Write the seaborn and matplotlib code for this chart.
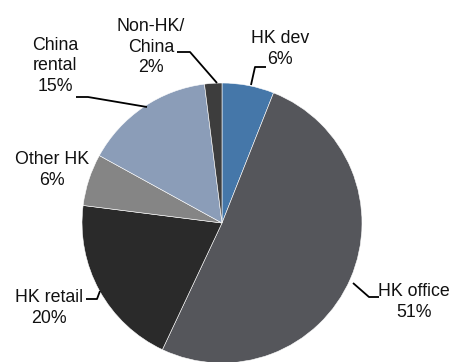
import matplotlib
matplotlib.use("Agg")
import matplotlib.pyplot as plt
from matplotlib import font_manager
import seaborn as sns

# ---- data ----
categories = ["HK dev", "HK office", "HK retail", "Other HK", "China rental", "Non-HK/\nChina"]
shares = [6, 51, 20, 6, 15, 2]
label_texts = ["HK dev\n6%", "HK office\n51%", "HK retail\n20%", "Other HK\n6%",
               "China\nrental\n15%", "Non-HK/\nChina\n2%"]
colors = ["#4577a9", "#55565b", "#2a2a2a", "#858585", "#8b9db8", "#3d3d3d"]

sns.set_theme(style="white")
names = {f.name for f in font_manager.fontManager.ttflist}
if "Liberation Sans Narrow" in names:
    fam, fsize = ["Liberation Sans Narrow", "DejaVu Sans"], 14.2
else:
    fam, fsize = ["Liberation Sans", "DejaVu Sans"], 12.8
plt.rcParams["font.family"] = fam

W, H = 452, 362
fig = plt.figure(figsize=(W / 100, H / 100), dpi=100)
ax = fig.add_axes([0, 0, 1, 1])

def P(x, y):
    return (x, H - y)

ax.pie(shares, colors=colors, startangle=90, counterclock=False,
       center=P(222, 223), radius=140, frame=True,
       wedgeprops=dict(edgecolor="white", linewidth=0.4))
ax.set_xlim(0, W)
ax.set_ylim(0, H)
ax.set_aspect("equal")
ax.axis("off")

# label layout (pixel positions)
text_pos = [(280, 49), (414, 302), (49, 308), (52, 170), (55, 66), (151, 47)]
leaders = [
    [(251, 85), (255, 67), (266, 67)],
    [(353, 283), (369, 297), (379, 297)],
    [(86, 299), (97, 299), (100, 291)],
    None,
    [(76, 97), (88, 97), (147, 107)],
    [(177, 52), (190, 52), (217, 83)],
]
for txt, (tx, ty), ld in zip(label_texts, text_pos, leaders):
    ax.text(*P(tx, ty), txt, ha="center", va="center", fontsize=fsize,
            color="#111111", linespacing=1.25)
    if ld:
        xs = [p[0] for p in ld]
        ys = [H - p[1] for p in ld]
        ax.plot(xs, ys, color="black", lw=1.3, solid_capstyle="butt")

fig.savefig("out.png", dpi=100, facecolor="white")
